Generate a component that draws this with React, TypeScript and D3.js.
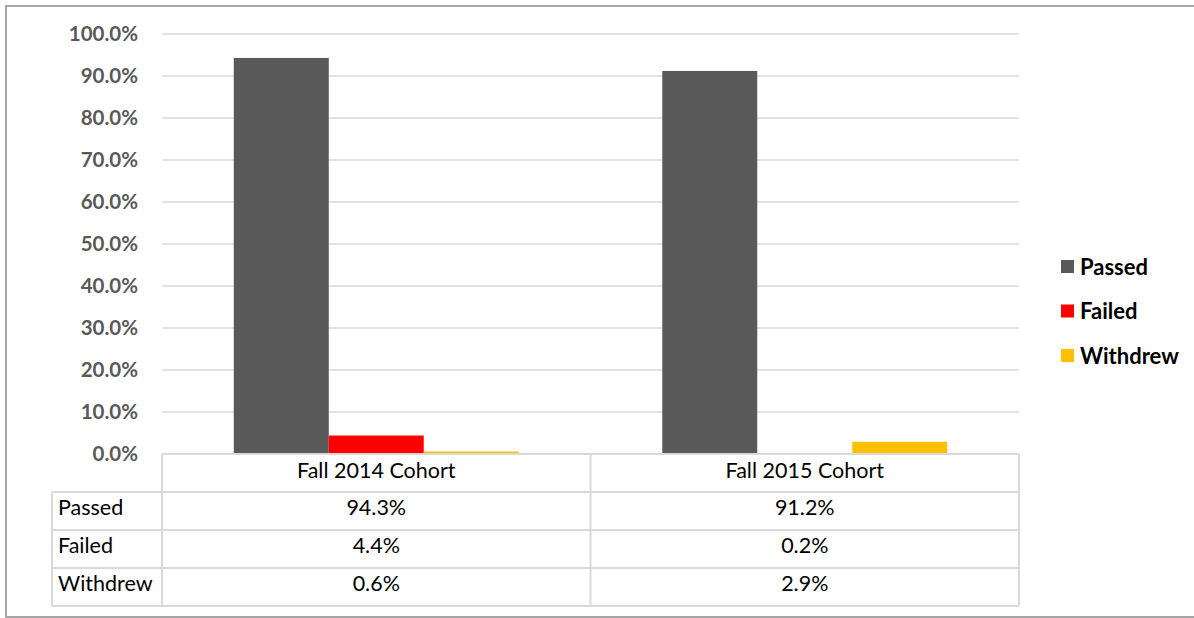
import React, { useEffect, useRef } from 'react';
import * as d3 from 'd3';

const cohorts = ['Fall 2014 Cohort', 'Fall 2015 Cohort'];
const seriesNames = ['Passed', 'Failed', 'Withdrew'];
const passed = [94.3, 91.2];
const failed = [4.4, 0.2];
const withdrew = [0.6, 2.9];
const yTicks = [0, 10, 20, 30, 40, 50, 60, 70, 80, 90, 100];
const seriesColors = ['#595959', '#ff0000', '#ffc000'];

const W = 1194;
const H = 618;
const FONT = 'Lato, "Open Sans", sans-serif';

const App = () => {
  const ref = useRef<SVGSVGElement | null>(null);

  useEffect(() => {
    if (!ref.current) return;
    const svg = d3.select(ref.current);
    svg.selectAll('*').remove();

    const plotLeft = 162;
    const plotRight = 1019;
    const plotTop = 34;
    const plotBottom = 454;
    const tableLeft = 52;
    const rowH = 38;

    const series = [passed, failed, withdrew];

    // outer frame (open on the right, as in the original)
    svg.append('path')
      .attr('d', `M${W + 5},6 H6 V617 H${W + 5}`)
      .attr('fill', 'none')
      .attr('stroke', '#a6a6a6')
      .attr('stroke-width', 2);

    const y = d3.scaleLinear().domain([0, 100]).range([plotBottom, plotTop]);
    const x0 = d3.scaleBand<string>()
      .domain(cohorts)
      .range([plotLeft, plotRight])
      .paddingInner(0.335)
      .paddingOuter(0.1675);
    const x1 = d3.scaleBand<string>()
      .domain(seriesNames)
      .range([0, x0.bandwidth()]);

    // gridlines
    svg.append('g')
      .selectAll('line')
      .data(yTicks.filter(t => t > 0))
      .enter().append('line')
      .attr('x1', plotLeft)
      .attr('x2', plotRight)
      .attr('y1', d => y(d))
      .attr('y2', d => y(d))
      .attr('stroke', '#d9d9d9')
      .attr('stroke-width', 1.5);

    // y labels
    svg.append('g')
      .selectAll('text')
      .data(yTicks)
      .enter().append('text')
      .attr('x', 138)
      .attr('y', d => y(d))
      .attr('dy', '0.35em')
      .attr('text-anchor', 'end')
      .style('font-family', FONT)
      .style('font-size', '20.5px')
      .style('font-weight', 'bold')
      .style('fill', '#595959')
      .text(d => `${d.toFixed(1)}%`);

    // bars
    seriesNames.forEach((name, si) => {
      svg.append('g')
        .selectAll('rect')
        .data(cohorts)
        .enter().append('rect')
        .attr('x', c => (x0(c) ?? 0) + (x1(name) ?? 0))
        .attr('y', (c, i) => y(series[si][i]))
        .attr('width', x1.bandwidth())
        .attr('height', (c, i) => plotBottom - y(series[si][i]))
        .attr('fill', seriesColors[si]);
    });

    // data table
    const tbl = svg.append('g');
    const lineColor = '#d9d9d9';
    const tableBottom = plotBottom + rowH * 4;
    const hLines = [0, 1, 2, 3, 4].map(i => plotBottom + rowH * i);
    hLines.forEach((ly, i) => {
      tbl.append('line')
        .attr('x1', i === 0 ? plotLeft : tableLeft)
        .attr('x2', plotRight)
        .attr('y1', ly).attr('y2', ly)
        .attr('stroke', lineColor).attr('stroke-width', 2);
    });
    const divider = (x0(cohorts[0]) ?? 0) + x0.bandwidth() + (x0.step() - x0.bandwidth()) / 2;
    [
      [tableLeft, plotBottom + rowH],
      [plotLeft, plotBottom],
      [divider, plotBottom],
      [plotRight, plotBottom],
    ].forEach(([lx, top]) => {
      tbl.append('line')
        .attr('x1', lx).attr('x2', lx)
        .attr('y1', top).attr('y2', tableBottom)
        .attr('stroke', lineColor).attr('stroke-width', 2);
    });

    const cellText = (tx: number, ty: number, txt: string, anchor: string) => {
      tbl.append('text')
        .attr('x', tx)
        .attr('y', ty)
        .attr('dy', '0.3em')
        .attr('text-anchor', anchor)
        .style('font-family', FONT)
        .style('font-size', '21.5px')
        .style('fill', '#000')
        .text(txt);
    };

    cohorts.forEach(c => {
      const cx = (x0(c) ?? 0) + x0.bandwidth() / 2;
      cellText(cx, plotBottom + rowH / 2 - 1, c, 'middle');
    });
    seriesNames.forEach((name, si) => {
      const cy = plotBottom + rowH * (si + 1) + rowH / 2 - 2;
      cellText(tableLeft + 6, cy, name, 'start');
      cohorts.forEach((c, ci) => {
        const cx = (x0(c) ?? 0) + x0.bandwidth() / 2;
        cellText(cx, cy, `${series[si][ci].toFixed(1)}%`, 'middle');
      });
    });

    // legend
    const legend = svg.append('g');
    seriesNames.forEach((name, i) => {
      const ly = 267 + i * 44.5;
      legend.append('rect')
        .attr('x', 1061)
        .attr('y', ly - 7)
        .attr('width', 13)
        .attr('height', 13)
        .attr('fill', seriesColors[i]);
      legend.append('text')
        .attr('x', 1080)
        .attr('y', ly)
        .attr('dy', '0.35em')
        .style('font-family', FONT)
        .style('font-size', '22px')
        .style('font-weight', 'bold')
        .style('fill', '#000')
        .text(name);
    });
  }, []);

  return (
    <svg
      ref={ref}
      width={W}
      height={H}
      style={{ position: 'absolute', left: 0, top: 0, background: '#fff' }}
    />
  );
};

export default App;
